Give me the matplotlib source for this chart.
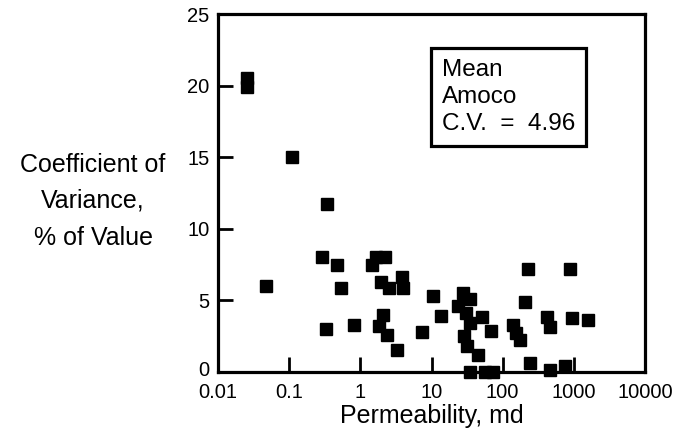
import matplotlib
matplotlib.use("Agg")
import matplotlib.pyplot as plt
import matplotlib.transforms as mtransforms

plt.rcParams['font.family'] = ['Liberation Sans', 'DejaVu Sans']

# Data (permeability in md, coefficient of variance in %)
permeability = [0.0255, 0.0255, 0.048, 0.109, 0.29, 0.34, 0.33, 0.465, 0.53, 0.81,
                1.46, 1.67, 2.2, 1.95, 2.5, 3.8, 3.95, 2.1, 1.8, 2.35,
                3.24, 7.26, 10.6, 13.4,
                27.3, 34.8, 23.6, 31, 52, 35, 29, 69, 32, 45,
                35, 56, 73,
                228, 879, 205, 413, 469, 928, 1592, 140, 152, 177,
                246, 460, 748]
cov = [20.5, 19.9, 6.0, 15.0, 8.0, 11.7, 3.0, 7.5, 5.9, 3.3,
       7.5, 8.0, 8.0, 6.3, 5.9, 6.6, 5.9, 4.0, 3.2, 2.6,
       1.55, 2.8, 5.3, 3.9,
       5.55, 5.07, 4.6, 4.1, 3.85, 3.4, 2.5, 2.85, 1.8, 1.2,
       0.0, 0.0, 0.0,
       7.2, 7.2, 4.9, 3.85, 3.15, 3.8, 3.65, 3.3, 2.75, 2.25,
       0.6, 0.15, 0.4]

x_ticks = [0.01, 0.1, 1, 10, 100, 1000, 10000]
x_ticklabels = ["0.01", "0.1", "1", "10", "100", "1000", "10000"]
y_ticks = [0, 5, 10, 15, 20, 25]
y_ticklabels = ["0", "5", "10", "15", "20", "25"]

fig = plt.figure(figsize=(6.85, 4.37), dpi=100)
ax = fig.add_axes([218/685, 1 - 372/437, (645-218)/685, (372-14)/437])

ax.plot(permeability, cov, linestyle='none', marker='s', markersize=9,
        color='black', clip_on=False, zorder=3)

ax.set_xscale('log')
ax.set_xlim(0.01, 10000)
ax.set_ylim(0, 25)
ax.set_xticks(x_ticks)
ax.set_xticklabels(x_ticklabels)
ax.minorticks_off()
ax.set_yticks(y_ticks)
ax.set_yticklabels(y_ticklabels)
ax.tick_params(direction='in', length=11, width=2, labelsize=14.5)
ax.tick_params(axis='x', pad=8)
ax.tick_params(axis='y', pad=6)
for s in ax.spines.values():
    s.set_linewidth(2.3)

# nudge the "0" y tick label slightly upward so it does not collide with "0.01"
zero_lbl = ax.get_yticklabels()[0]
zero_lbl.set_transform(zero_lbl.get_transform() +
                       mtransforms.ScaledTranslation(0, 3/100, fig.dpi_scale_trans))

ax.set_xlabel("Permeability, md", fontsize=18, labelpad=1)

fig.text(93/685, 1 - 165/437, "Coefficient of", fontsize=18, ha='center', va='center')
fig.text(93/685, 1 - 201/437, "Variance,", fontsize=18, ha='center', va='center')
fig.text(93/685, 1 - 238/437, "% of Value", fontsize=18, ha='center', va='center')

ax.text(442/685, 1 - 97/437, "Mean\nAmoco\nC.V.  =  4.96", transform=fig.transFigure,
        fontsize=17.5, ha='left', va='center', linespacing=1.28,
        bbox=dict(boxstyle='square,pad=0.45', facecolor='white', edgecolor='black',
                  linewidth=2.3))

fig.savefig("out.png", dpi=100)
